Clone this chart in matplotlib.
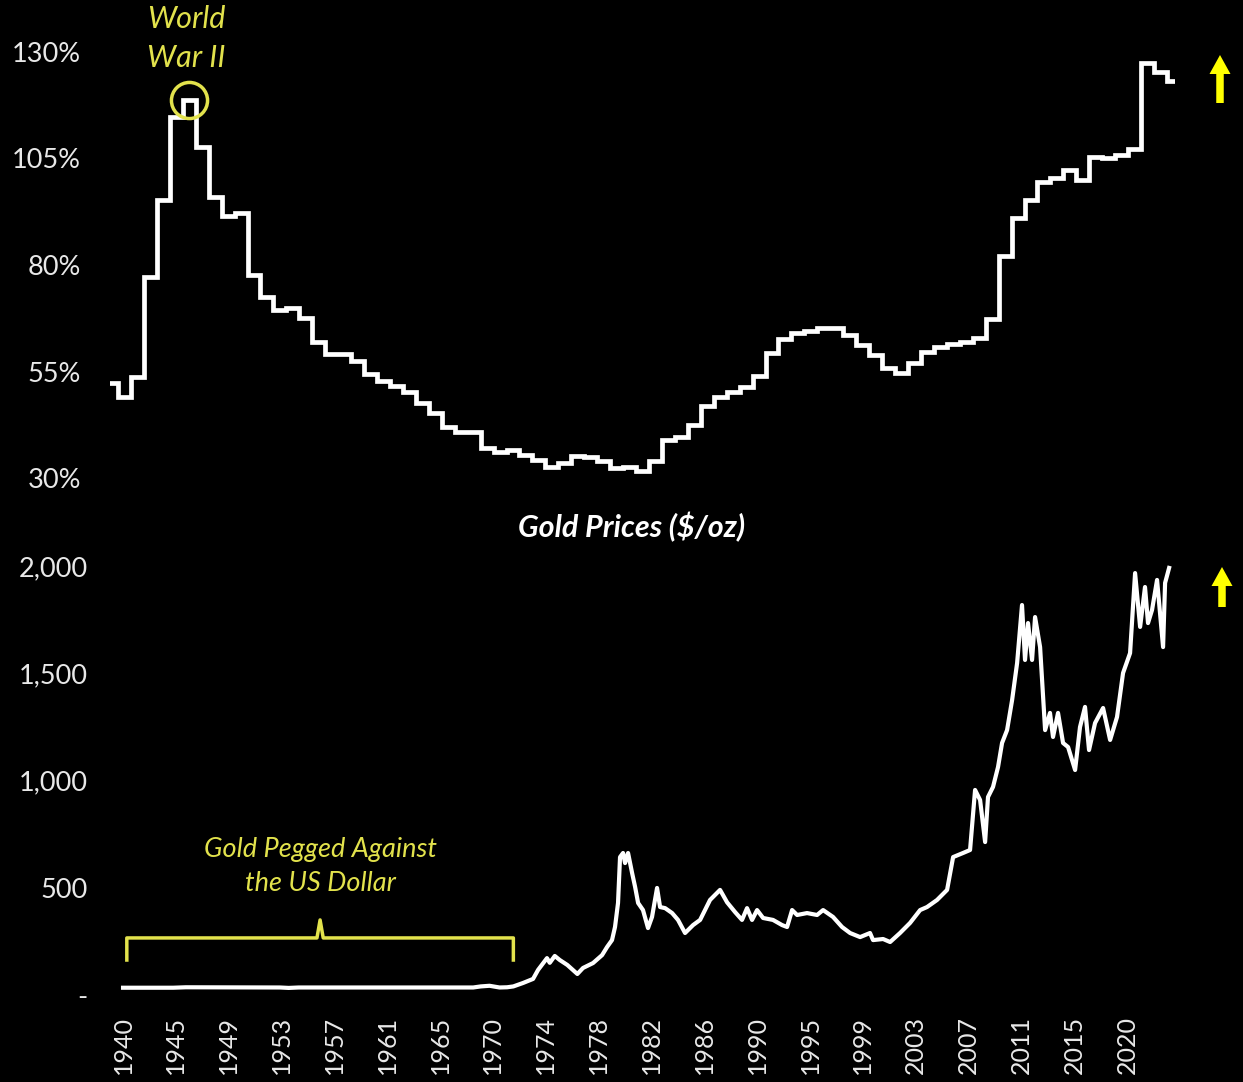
import numpy as np
import matplotlib.pyplot as plt
from matplotlib.patches import FancyArrow

plt.rcParams['font.family'] = ['Lato', 'DejaVu Sans']

# federal debt as share of GDP, one value per year
debt_years = np.arange(1940, 2023)
debt_pct = [52.2, 49.0, 53.6, 77.2, 95.3, 114.7, 118.7, 107.7, 96.0, 91.5,
            92.2, 77.6, 72.5, 69.4, 69.8, 67.5, 62.0, 59.0, 59.2, 57.4,
            54.3, 52.7, 51.6, 50.2, 47.6, 45.3, 42.0, 40.8, 40.8, 37.0,
            36.1, 36.6, 35.4, 34.2, 32.6, 33.5, 35.2, 35.0, 34.0, 32.3,
            32.6, 31.6, 34.0, 38.9, 39.6, 42.4, 46.9, 49.0, 50.2, 51.4,
            53.9, 59.3, 62.6, 64.0, 64.5, 65.2, 65.2, 63.6, 61.2, 58.9,
            55.8, 54.6, 57.0, 59.6, 60.8, 61.5, 61.9, 62.9, 67.3, 82.1,
            91.0, 95.3, 99.5, 100.4, 102.3, 100.0, 105.4, 105.2, 105.8, 107.2,
            127.4, 125.3, 123.2]

# gold price, $/oz
gold_t = [1940.0, 1944.0, 1945.0, 1952.5, 1953.2, 1954.0, 1967.9, 1968.5, 1969.2, 1970.0,
          1970.6, 1971.1, 1971.87, 1972.67, 1973.07, 1973.78, 1974.0, 1974.4, 1974.8, 1975.4,
          1976.2, 1976.65, 1977.45, 1978.17, 1978.57, 1978.96, 1979.2, 1979.44, 1979.6, 1979.84,
          1980.0, 1980.24, 1980.56, 1980.8, 1981.04, 1981.43, 1981.83, 1982.15, 1982.55, 1982.79,
          1983.19, 1983.75, 1984.22, 1984.78, 1985.42, 1985.98, 1986.77, 1987.57, 1988.13, 1988.76,
          1989.32, 1989.72, 1990.12, 1990.52, 1991.0, 1991.79, 1992.51, 1992.91, 1993.31, 1993.71,
          1994.5, 1995.3, 1995.78, 1996.57, 1997.29, 1997.93, 1998.73, 1999.52, 1999.76, 2000.56,
          2001.12, 2001.91, 2002.71, 2003.51, 2004.06, 2004.86, 2005.66, 2006.14, 2006.93, 2007.49,
          2007.89, 2008.29, 2008.69, 2008.92, 2009.32, 2009.72, 2010.04, 2010.44, 2010.84, 2011.24,
          2011.63, 2011.87, 2012.11, 2012.43, 2012.67, 2013.07, 2013.47, 2013.86, 2014.1, 2014.5,
          2014.9, 2015.3, 2015.86, 2016.25, 2016.65, 2016.97, 2017.45, 2018.09, 2018.65, 2019.2,
          2019.68, 2020.24, 2020.64, 2021.04, 2021.43, 2021.67, 2021.99, 2022.39, 2022.87, 2023.03,
          2023.35]
gold_px = [33.9, 33.9, 36, 35, 33, 35, 35, 40, 43, 35,
           36, 40, 56, 75, 117, 172, 150, 182, 163, 140,
           98, 126, 149, 186, 224, 256, 317, 429, 643, 662,
           615, 662, 569, 504, 429, 396, 312, 364, 499, 410,
           405, 382, 350, 289, 326, 350, 443, 490, 432, 387,
           350, 405, 350, 396, 359, 350, 326, 317, 396, 373,
           382, 373, 396, 364, 317, 289, 270, 289, 256, 261,
           247, 289, 336, 396, 410, 443, 490, 643, 662, 676,
           956, 909, 713, 923, 970, 1063, 1175, 1235, 1375, 1548,
           1818, 1562, 1734, 1562, 1762, 1622, 1235, 1315, 1203, 1315,
           1175, 1156, 1049, 1249, 1343, 1142, 1268, 1338, 1189, 1296,
           1501, 1594, 1967, 1716, 1902, 1734, 1795, 1935, 1622, 1921,
           1991]

year_labels = ['1940', '1945', '1949', '1953', '1957', '1961', '1965', '1970', '1974', '1978',
               '1982', '1986', '1990', '1995', '1999', '2003', '2007', '2011', '2015', '2020']
debt_ticks = [30, 55, 80, 105, 130]
gold_ticks = [0, 500, 1000, 1500, 2000]
gold_tick_labels = ['-', '500', '1,000', '1,500', '2,000']

peg_start, peg_end = 1940.3, 1971.1

W, H = 1243, 1082
YELLOW = '#e2e24c'
TXT = '#e8e8e8'

fig = plt.figure(figsize=(W / 100, H / 100), dpi=100, facecolor='black')

# top panel: debt / GDP
ax1 = fig.add_axes([110 / W, 1 - 478 / H, 1065 / W, 426 / H])
ax1.set_facecolor('black')
edges = np.append(debt_years, debt_years[-1] + 1) - 0.5
ax1.stairs(debt_pct, edges, baseline=None, color='white', linewidth=3.4, joinstyle='miter')
ax1.set_xlim(1939.88, 2022.12)
ax1.set_ylim(30, 130)
ax1.set_yticks(debt_ticks)
ax1.set_yticklabels(['%d%%' % v for v in debt_ticks])
ax1.set_xticks([])
ax1.tick_params(axis='y', length=0, pad=21, labelsize=19.5, labelcolor=TXT)
for s in ax1.spines.values():
    s.set_visible(False)

ww2 = list(debt_years).index(1946)
ax1.plot(debt_years[ww2], debt_pct[ww2], 'o', ms=26, mfc='none', mec=YELLOW, mew=2.5, clip_on=False)
ax1.text(debt_years[ww2] - 0.2, 133.2, 'World\nWar II', color=YELLOW, style='italic',
         fontsize=22, ha='center', va='center', linespacing=1.5)

fig.text(632 / W, 1 - 527 / H, 'Gold Prices ($/oz)', color='white', fontsize=22,
         fontweight='bold', style='italic', ha='center', va='center')

# bottom panel: gold
ax2 = fig.add_axes([110 / W, 1 - 995 / H, 1065 / W, 429 / H])
ax2.set_facecolor('black')
ax2.plot(gold_t, gold_px, color='white', linewidth=3.0, clip_on=False)
ax2.set_xlim(1938.96, 2023.82)
ax2.set_ylim(0, 2000)
ax2.set_yticks(gold_ticks)
ax2.set_yticklabels(gold_tick_labels)
ax2.set_xticks(np.linspace(1940, 2020, len(year_labels)))
ax2.set_xticklabels(year_labels, rotation=90)
ax2.tick_params(axis='y', length=0, pad=16, labelsize=19.5, labelcolor=TXT)
ax2.tick_params(axis='x', length=0, pad=15, labelsize=18, labelcolor=TXT)
for s in ax2.spines.values():
    s.set_visible(False)

# bracket over the pegged period
mid = (peg_start + peg_end) / 2
bx = [peg_start, peg_start, mid - 0.25, mid, mid + 0.25, peg_end, peg_end]
by = [163, 266, 266, 350, 266, 266, 163]
ax2.plot(bx, by, color=YELLOW, linewidth=2.5, solid_joinstyle='round')
ax2.text(mid, 599, 'Gold Pegged Against\nthe US Dollar', color=YELLOW, style='italic',
         fontsize=19.5, ha='center', va='center', linespacing=1.45)

# arrows at the right edge
for x_px, tail_px, tip_px in [(1220, 103, 55), (1222, 607, 567)]:
    fig.add_artist(FancyArrow(x_px / 100, (H - tail_px) / 100, 0, (tail_px - tip_px) / 100,
                              width=0.075, head_width=0.21, head_length=0.19,
                              length_includes_head=True, color='#ffff00', linewidth=0,
                              transform=fig.dpi_scale_trans))

fig.savefig('out.png', dpi=100, facecolor='black')
